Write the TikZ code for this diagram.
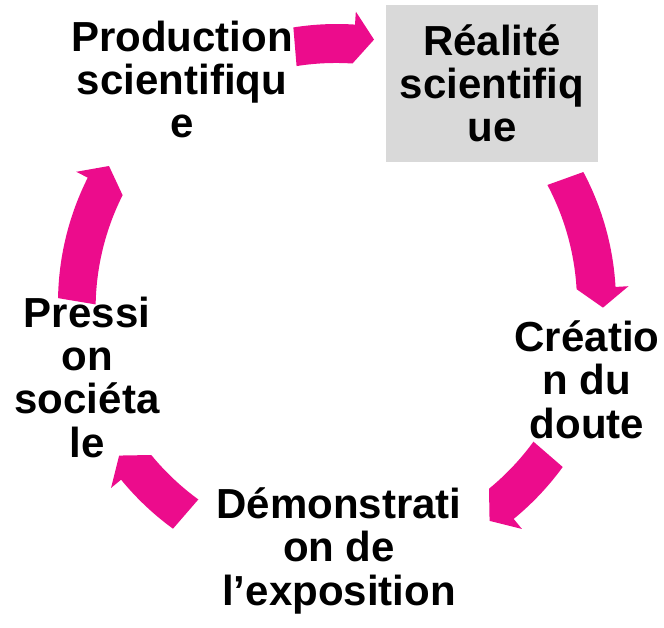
\documentclass[tikz,border=0pt]{standalone}
\usepackage{fontspec}
\setmainfont{Liberation Sans}
\usetikzlibrary{positioning}

\definecolor{cyclepink}{HTML}{EC0C8C}
\definecolor{boxgray}{HTML}{D9D9D9}

\begin{document}
\begin{tikzpicture}[x=1pt, y=1pt,
    stage/.style={align=center, anchor=base, inner sep=0pt,
      font=\fontsize{42}{43.3}\selectfont\bfseries},
    cyclearrow/.style={fill=cyclepink}]
  \useasboundingbox (0,0) rectangle (664,-628);
  \coordinate (hub) at (337,-303);

  % Stages of the cycle
  \node[stage] (prod) at (182,-138) {Production\\scientifiqu\\e};
  \node[stage, anchor=center, fill=boxgray, minimum width=212pt,
    minimum height=157pt] (real) at (492,-83.5) {Réalité\\scientifiq\\ue};
  \node[stage] (crea) at (587,-438) {Créatio\\n du\\doute};
  \node[stage] (demo) at (339,-605) {Démonstrati\\on de\\l’exposition};
  \node[stage] (pres) at (87,-457) {Pressi\\on\\sociéta\\le};

  % Curved block arrows, clockwise
  \foreach \st/\en in {99/82, 28/-1, -36/-55, -126/-145, 179/149} {
    \pgfmathsetmacro{\hd}{\en+4.3}
    \fill[cyclearrow] ([shift={(hub)}]\st:279pt)
      arc[start angle=\st, end angle=\hd, radius=279pt]
      -- ([shift={(hub)}]\hd:292pt) -- ([shift={(hub)}]\en:266pt)
      -- ([shift={(hub)}]\hd:240pt)
      arc[start angle=\hd, end angle=\st, radius=253pt] -- cycle;
  }
\end{tikzpicture}
\end{document}
